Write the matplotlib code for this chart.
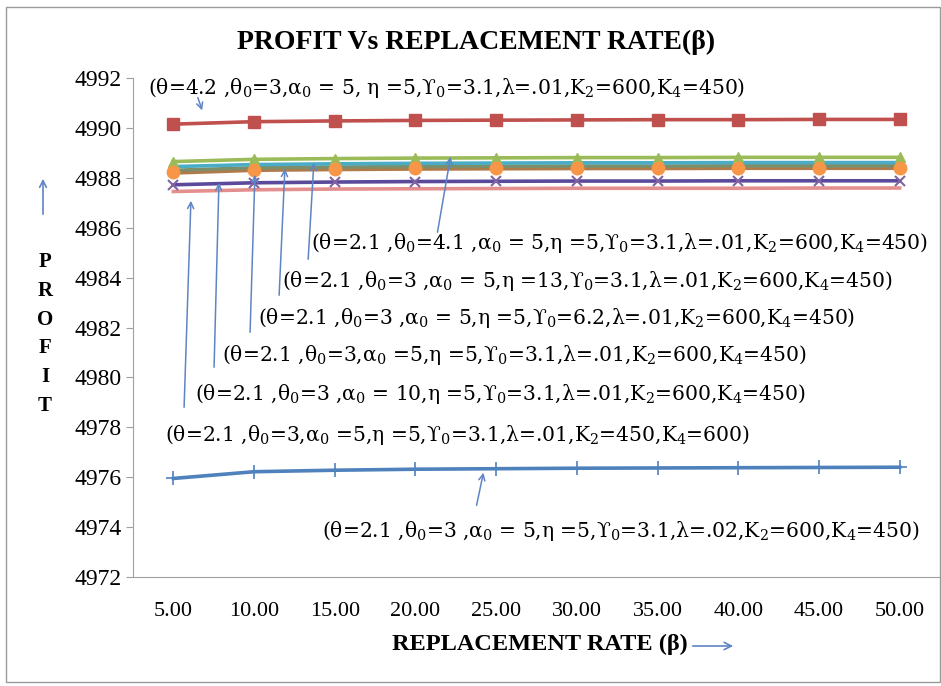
import matplotlib
matplotlib.use("Agg")
import matplotlib.pyplot as plt
from matplotlib.patches import Rectangle, FancyArrowPatch

W, H = 941, 686
categories = ["5.00", "10.00", "15.00", "20.00", "25.00", "30.00", "35.00", "40.00", "45.00", "50.00"]

lam02 = [4975.95, 4976.22, 4976.28, 4976.32, 4976.34, 4976.36, 4976.37, 4976.38, 4976.39, 4976.40]
theta42 = [4990.15, 4990.25, 4990.28, 4990.30, 4990.31, 4990.32, 4990.33, 4990.33, 4990.34, 4990.34]
theta0_41 = [4988.65, 4988.74, 4988.77, 4988.79, 4988.80, 4988.81, 4988.81, 4988.82, 4988.82, 4988.82]
alpha10 = [4987.72, 4987.80, 4987.83, 4987.85, 4987.86, 4987.87, 4987.87, 4987.88, 4987.88, 4987.88]
eta13 = [4988.45, 4988.53, 4988.56, 4988.58, 4988.59, 4988.60, 4988.60, 4988.61, 4988.61, 4988.61]
base = [4988.22, 4988.33, 4988.36, 4988.38, 4988.39, 4988.40, 4988.40, 4988.41, 4988.41, 4988.41]
gamma62 = [4988.30, 4988.40, 4988.43, 4988.45, 4988.46, 4988.47, 4988.47, 4988.48, 4988.48, 4988.48]
k2_450 = [4987.45, 4987.52, 4987.55, 4987.56, 4987.57, 4987.58, 4987.58, 4987.58, 4987.59, 4987.59]

yticks = list(range(4972, 4993, 2))

SERIF = ["Liberation Serif", "DejaVu Serif"]
WIDE = ["DejaVu Serif"]
plt.rcParams["font.family"] = SERIF
plt.rcParams["mathtext.fontset"] = "dejavuserif"

fig = plt.figure(figsize=(W / 100, H / 100), dpi=100)

def fx(x):
    return x / W

def fy(y):
    return 1 - y / H

fig.patches.append(Rectangle((fx(6), fy(682)), fx(940) - fx(6), fy(7) - fy(682),
                             transform=fig.transFigure, fill=False, edgecolor="#9a9a9a", lw=1.0))

ax = fig.add_axes([fx(133), fy(577), fx(940) - fx(133), fy(78) - fy(577)])
x = list(range(len(categories)))

lw = 2.6
ax.plot(x, lam02, color="#4F81BD", lw=lw, marker="+", ms=10, mew=1.2, zorder=3)
ax.plot(x, k2_450, color="#E38F8D", lw=lw, zorder=3)
ax.plot(x, alpha10, color="#5B4A9B", lw=lw, marker="x", ms=7, mew=1.5, mec="#8064A2", zorder=3)
ax.plot(x, base, color="#B07A4A", lw=lw + 1, zorder=3)
ax.plot(x, gamma62, color="#7D8F6A", lw=lw, zorder=3)
ax.plot(x, eta13, color="#4BACC6", lw=lw, zorder=3)
ax.plot(x, theta0_41, color="#9BBB59", lw=lw, marker="^", ms=7, zorder=4)
ax.plot(x, base, color="none", marker="o", ms=9, mfc="#F79646", mec="#F79646", zorder=5)
ax.plot(x, theta42, color="#C0504D", lw=lw, marker="s", ms=9, zorder=4)

ax.set_xlim(-0.5, len(categories) - 0.5)
ax.set_ylim(4972, 4992)
ax.set_xticks(x)
ax.set_xticklabels(categories, fontsize=16)
ax.set_yticks(yticks)
ax.set_yticklabels([str(t) for t in yticks], fontsize=17)
ax.tick_params(axis="x", length=0, pad=18)
ax.tick_params(axis="y", length=5, color="#a0a0a0", pad=3)
for s in ["top", "right"]:
    ax.spines[s].set_visible(False)
for s in ["left", "bottom"]:
    ax.spines[s].set_color("#a0a0a0")

fig.text(fx(476), fy(42), "PROFIT Vs REPLACEMENT RATE(β)", ha="center", va="center",
         fontsize=20, fontweight="bold")
fig.text(fx(688), fy(644), "REPLACEMENT RATE (β)", ha="right", va="center",
         fontsize=17.5, fontweight="bold")
ac = "#5F84C4"
fig.add_artist(FancyArrowPatch((fx(690), fy(646)), (fx(736), fy(646)),
               transform=fig.transFigure, arrowstyle="->", mutation_scale=13, color=ac, lw=1.2))
for i, ch in enumerate("PROFIT"):
    fig.text(fx(45), fy(262 + i * 28.8), ch, ha="center", va="center", fontsize=15, fontweight="bold")
fig.add_artist(FancyArrowPatch((fx(43), fy(217)), (fx(43), fy(176)),
               transform=fig.transFigure, arrowstyle="->", mutation_scale=12, color=ac, lw=1.2))

labels = [
    (r"(θ=4.2 ,θ$_0$=3,α$_0$ = 5, η =5,ϒ$_0$=3.1,λ=.01,K$_2$=600,K$_4$=450)", 148, 88, (197, 95), (203, 113)),
    (r"(θ=2.1 ,θ$_0$=4.1 ,α$_0$ = 5,η =5,ϒ$_0$=3.1,λ=.01,K$_2$=600,K$_4$=450)", 311, 243, (437, 235), (451, 154)),
    (r"(θ=2.1 ,θ$_0$=3 ,α$_0$ = 5,η =13,ϒ$_0$=3.1,λ=.01,K$_2$=600,K$_4$=450)", 282, 281, (308, 262), (314, 160)),
    (r"(θ=2.1 ,θ$_0$=3 ,α$_0$ = 5,η =5,ϒ$_0$=6.2,λ=.01,K$_2$=600,K$_4$=450)", 258, 318, (279, 298), (285, 166)),
    (r"(θ=2.1 ,θ$_0$=3,α$_0$ =5,η =5,ϒ$_0$=3.1,λ=.01,K$_2$=600,K$_4$=450)", 222, 355, (250, 335), (255, 172)),
    (r"(θ=2.1 ,θ$_0$=3 ,α$_0$ = 10,η =5,ϒ$_0$=3.1,λ=.01,K$_2$=600,K$_4$=450)", 195, 394, (214, 370), (219, 180)),
    (r"(θ=2.1 ,θ$_0$=3,α$_0$ =5,η =5,ϒ$_0$=3.1,λ=.01,K$_2$=450,K$_4$=600)", 165, 435, (184, 410), (191, 198)),
    (r"(θ=2.1 ,θ$_0$=3 ,α$_0$ = 5,η =5,ϒ$_0$=3.1,λ=.02,K$_2$=600,K$_4$=450)", 322, 531, (476, 508), (484, 470)),
]
for txt, tx, ty, (x0, y0), (x1, y1) in labels:
    fig.text(fx(tx), fy(ty), txt, ha="left", va="center", fontsize=14.6, family=WIDE)
    fig.add_artist(FancyArrowPatch((fx(x0), fy(y0)), (fx(x1), fy(y1)),
                   transform=fig.transFigure, arrowstyle="->", mutation_scale=11, color=ac, lw=1.1))

fig.savefig("out.png", dpi=100, facecolor="white")
